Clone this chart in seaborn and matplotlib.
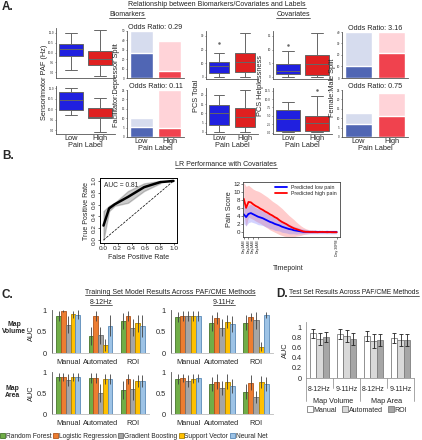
import numpy as np
import pandas as pd
import matplotlib
matplotlib.use("Agg")
import matplotlib.pyplot as plt
from matplotlib.lines import Line2D
from matplotlib.patches import Patch
import seaborn as sns

sns.set_style("white")
plt.rcParams['font.family'] = ['Liberation Sans', 'DejaVu Sans']

W, H = 422, 440

# ---------------- panel A data ----------------
pain_labels = ["Low", "High"]
paf_812_low = [9.13, 9.5, 9.8, 10.0, 10.17, 10.3, 10.42, 10.7, 11.0]
paf_812_high = [8.83, 9.1, 9.37, 9.5, 9.67, 9.9, 10.08, 10.6, 11.12]
paf_911_low = [9.71, 9.85, 9.97, 10.2, 10.43, 10.6, 10.81, 10.9, 11.0]
paf_911_high = [8.93, 9.3, 9.57, 9.6, 9.64, 9.85, 10.07, 10.3, 10.54]
pcs_total_low = [0.0, 1.5, 2.8, 5.0, 7.6, 9.0, 10.6, 17.7, 25.0]
pcs_total_high = [0.0, 1.5, 3.5, 7.0, 10.6, 14.0, 17.7, 25.0, 32.0]
pcs_help_low = [0.0, 0.6, 1.2, 1.8, 2.3, 3.5, 4.7, 9.4, 11.5]
pcs_help_high = [0.0, 0.4, 0.8, 2.5, 4.7, 6.5, 8.0, 12.0, 16.0]
pcs_total2_low = [0.0, 1.5, 3.5, 7.0, 10.4, 12.5, 14.7, 17.0, 20.0]
pcs_total2_high = [0.0, 1.2, 2.7, 5.5, 8.2, 10.5, 13.1, 17.0, 22.5]
pcs_help2_low = [0.2, 0.3, 0.4, 2.0, 4.1, 5.5, 6.8, 8.0, 9.1]
pcs_help2_high = [0.2, 0.3, 0.4, 1.5, 2.9, 4.0, 5.0, 10.9, 12.7]

fd_812_total = [50, 39]
fd_812_split = [27, 7]
fd_911_total = [10, 25]
fd_911_split = [5.5, 5]
fm_top_total = [40, 40]
fm_top_split = [10.5, 22]
fm_bot_total = [13, 23.5]
fm_bot_split = [7, 11]
odds = ["Odds Ratio: 0.29", "Odds Ratio: 0.11", "Odds Ratio: 3.16", "Odds Ratio: 0.75"]

# ---------------- panel B data ----------------
roc_fpr = [0, 0, 0.08, 0.08, 0.16, 0.16, 0.35, 0.35, 0.58, 0.58, 0.81, 0.81, 1.0]
roc_tpr = [0, 0.49, 0.49, 0.58, 0.58, 0.63, 0.63, 0.83, 0.83, 0.96, 0.96, 1.0, 1.0]

high_mean = [8.4, 6.1, 7.6, 7.5, 7.0, 6.6, 6.3, 5.9, 5.6, 5.2,
             4.9, 4.5, 4.2, 3.8, 3.5, 3.0, 2.6, 2.3, 2.0, 1.6,
             1.3, 1.0, 0.8, 0.6, 0.4, 0.2, 0.1, 0.1, 0.05, 0.1,
             0.05, 0.0, 0.05, 0.1, 0.05, 0.0, 0.05, 0.0, 0.0, 0.0]
low_mean = [4.5, 3.8, 4.6, 4.8, 4.5, 4.2, 3.9, 3.7, 3.5, 3.2,
            2.9, 2.6, 2.4, 2.1, 1.9, 1.7, 1.4, 1.2, 1.0, 0.8,
            0.7, 0.5, 0.4, 0.3, 0.2, 0.1, 0.1, 0.1, 0.05, 0.05,
            0.1, 0.05, 0.1, 0.05, 0.05, 0.1, 0.05, 0.05, 0.05, 0.05]
high_upper = [12.5, 11.5, 11.8, 11.3, 10.8, 10.5, 10.3, 10.0, 9.6, 9.2,
              8.8, 8.3, 7.8, 7.4, 7.0, 6.5, 6.0, 5.4, 4.8, 4.2,
              3.7, 3.2, 2.6, 2.1, 1.6, 1.2, 0.9, 0.7, 0.6, 0.5,
              0.5, 0.4, 0.4, 0.3, 0.4, 0.3, 0.3, 0.3, 0.3, 0.3]
high_lower = [4.5, 1.5, 3.8, 3.5, 3.2, 2.8, 2.5, 2.2, 1.8, 1.4,
              1.0, 0.6, 0.3, 0.0, -0.3, -0.6, -0.8, -1.0, -1.1, -1.2,
              -1.2, -1.2, -1.0, -0.9, -0.8, -0.6, -0.5, -0.4, -0.3, -0.3,
              -0.3, -0.2, -0.2, -0.2, -0.2, -0.2, -0.2, -0.2, -0.2, -0.2]
low_upper = [6.8, 6.0, 6.8, 7.0, 6.6, 6.2, 5.9, 5.6, 5.3, 5.0,
             4.6, 4.3, 4.0, 3.7, 3.4, 3.1, 2.8, 2.5, 2.2, 2.0,
             1.7, 1.5, 1.3, 1.1, 0.9, 0.8, 0.7, 0.6, 0.6, 0.6,
             0.6, 0.5, 0.5, 0.5, 0.5, 0.5, 0.5, 0.5, 0.5, 0.5]
low_lower = [2.2, 1.6, 2.4, 2.6, 2.4, 2.2, 1.9, 1.8, 1.7, 1.4,
             1.2, 0.9, 0.8, 0.5, 0.4, 0.3, 0.0, -0.1, -0.2, -0.4,
             -0.4, -0.4, -0.5, -0.4, -0.4, -0.4, -0.4, -0.4, -0.4, -0.4,
             -0.4, -0.4, -0.4, -0.4, -0.4, -0.4, -0.4, -0.4, -0.4, -0.4]
pain_ticks = [0, 2, 4, 6, 39]
pain_tick_labels = ["Day1AM", "Day2AM", "Day3AM", "Day4AM", "Day 30PM"]

# ---------------- panel C data ----------------
methods = ["Manual", "Automated", "ROI"]
models = ["Random Forest", "Logistic Regression", "Gradient Boosting", "Support Vector", "Neural Net"]
model_colors = ["#70ad47", "#ed7d31", "#a5a5a5", "#ffc000", "#9dc3e6"]
model_edges = ["#46752b", "#b0541c", "#6e6e6e", "#b08400", "#5b8ab8"]
vol_812 = [[0.87, 0.99, 0.67, 0.92, 0.91], [0.40, 0.87, 0.42, 0.19, 0.65], [0.76, 0.87, 0.60, 0.71, 0.64]]
vol_812_sd = [[0.12, 0.02, 0.20, 0.08, 0.10], [0.22, 0.12, 0.20, 0.15, 0.25], [0.18, 0.12, 0.20, 0.20, 0.25]]
vol_911 = [[0.85, 0.87, 0.87, 0.87, 0.87], [0.71, 0.83, 0.60, 0.74, 0.69], [0.72, 0.86, 0.78, 0.15, 0.90]]
vol_911_sd = [[0.12, 0.12, 0.12, 0.12, 0.12], [0.18, 0.15, 0.20, 0.15, 0.18], [0.18, 0.10, 0.20, 0.10, 0.08]]
area_812 = [[0.90, 0.89, 0.83, 0.89, 0.90], [0.88, 0.88, 0.51, 0.86, 0.86], [0.58, 0.86, 0.60, 0.80, 0.80]]
area_812_sd = [[0.10, 0.10, 0.15, 0.10, 0.10], [0.12, 0.12, 0.22, 0.12, 0.12], [0.22, 0.12, 0.25, 0.15, 0.15]]
area_911 = [[0.85, 0.88, 0.80, 0.86, 0.88], [0.73, 0.78, 0.63, 0.78, 0.68], [0.54, 0.76, 0.41, 0.78, 0.73]]
area_911_sd = [[0.12, 0.10, 0.15, 0.10, 0.10], [0.18, 0.18, 0.18, 0.18, 0.18], [0.18, 0.18, 0.15, 0.15, 0.18]]

# ---------------- panel D data ----------------
d_groups = ["Map Volume 8-12Hz", "Map Volume 9-11Hz", "Map Area 8-12Hz", "Map Area 9-11Hz"]
d_band_labels = ["8-12Hz", "9-11Hz", "8-12Hz", "9-11Hz"]
d_methods = ["Manual", "Automated", "ROI"]
d_colors = ["#ffffff", "#d9d9d9", "#a6a6a6"]
d_manual = [0.88, 0.87, 0.83, 0.79]
d_auto = [0.77, 0.83, 0.72, 0.75]
d_roi = [0.80, 0.77, 0.75, 0.74]
d_manual_sd = [0.09, 0.10, 0.10, 0.10]
d_auto_sd = [0.12, 0.12, 0.14, 0.12]
d_roi_sd = [0.10, 0.12, 0.12, 0.12]

fig = plt.figure(figsize=(W / 100, H / 100), dpi=100)


def px_axes(x0, y0, x1, y1):
    return fig.add_axes([x0 / W, 1 - y1 / H, (x1 - x0) / W, (y1 - y0) / H])


def ftext(x, y, s, **kw):
    return fig.text(x / W, 1 - y / H, s, **kw)


underlined = []


def utext(x, y, s, size, ha='center'):
    t = ftext(x, y, s, ha=ha, va='center', fontsize=size, color='#222222')
    underlined.append(t)


def box_panel(ax, low, high, yticks, show_x):
    df = pd.DataFrame({"label": ["Low"] * len(low) + ["High"] * len(high), "value": low + high})
    sns.boxplot(data=df, x="label", y="value", hue="label", order=pain_labels,
                palette={"Low": "blue", "High": "red"}, width=0.8, linewidth=0.7,
                linecolor="#666666", fliersize=0.8, legend=False, ax=ax)
    ax.set_yticks(yticks)
    ax.tick_params(axis='y', labelsize=2.2, length=1, pad=0.5, left=True, width=0.4)
    ax.set_xlabel("")
    ax.set_ylabel("")
    sns.despine(ax=ax)
    for s in ax.spines.values():
        s.set_linewidth(0.6)
        s.set_color("#555555")
    if show_x:
        ax.tick_params(axis='x', labelsize=5.3, length=0, pad=1)
        ax.set_xlabel("Pain Label", fontsize=5.3, labelpad=0)
    else:
        ax.set_xticks([])


def split_panel(ax, total, split, yticks, title, show_x):
    sns.barplot(x=pain_labels, y=total, hue=pain_labels, palette=["#d6dcee", "#ffd3d8"],
                saturation=1, width=0.8, legend=False, ax=ax)
    sns.barplot(x=pain_labels, y=split, hue=pain_labels, palette=["#5066b4", "#f0424e"],
                saturation=1, width=0.8, legend=False, ax=ax)
    ax.set_ylim(0, max(total))
    ax.set_yticks(yticks)
    ax.tick_params(axis='y', labelsize=2.2, length=1, pad=0.5, left=True, width=0.4)
    ax.set_title(title, fontsize=5.2, pad=1.5)
    sns.despine(ax=ax)
    for s in ax.spines.values():
        s.set_linewidth(0.6)
        s.set_color("#555555")
    if show_x:
        ax.tick_params(axis='x', labelsize=5.3, length=0, pad=1)
        ax.set_xlabel("Pain Label", fontsize=5.3, labelpad=0)
    else:
        ax.set_xticks([])


# ---------------- panel A ----------------
ftext(2, 7, "A.", fontsize=8.5, fontweight='bold', va='center')
utext(217, 5, "Relationship between Biomarkers/Covariates and Labels", 5.0)
utext(127, 15, "Biomarkers", 5.0)
utext(293, 15, "Covariates", 5.0)

ax = px_axes(56, 28, 115, 78)
box_panel(ax, paf_812_low, paf_812_high, [9.0, 9.5, 10.0, 10.5, 11.0], False)
ax = px_axes(56, 86, 115, 134)
box_panel(ax, paf_911_low, paf_911_high, [9.0, 9.5, 10.0, 10.5, 11.0], True)
ftext(45, 82, "Sensorimotor PAF (Hz)", rotation=90, fontsize=5.3, ha='center', va='center')

ax = px_axes(127, 31, 184, 78)
split_panel(ax, fd_812_total, fd_812_split, [0, 10, 20, 30, 40, 50], odds[0], False)
ax = px_axes(127, 90, 184, 137)
split_panel(ax, fd_911_total, fd_911_split, [0, 5, 10, 15, 20, 25], odds[1], True)
ftext(116, 85, "Facilitator:Depressor Split", rotation=90, fontsize=5.3, ha='center', va='center')

ax = px_axes(206, 31, 258, 79)
box_panel(ax, pcs_total_low, pcs_total_high, [0, 10, 20, 30], False)
ax = px_axes(206, 88, 258, 134)
box_panel(ax, pcs_total2_low, pcs_total2_high, [0, 5, 10, 15, 20], True)
ftext(196, 96, "PCS Total", rotation=90, fontsize=5.3, ha='center', va='center')

ax = px_axes(273, 31, 332, 79)
box_panel(ax, pcs_help_low, pcs_help_high, [0, 5, 10, 15], False)
ax = px_axes(273, 88, 332, 134)
box_panel(ax, pcs_help2_low, pcs_help2_high, [0, 2.5, 5.0, 7.5, 10.0, 12.5], True)
ftext(261, 85, "PCS Helplessness", rotation=90, fontsize=5.3, ha='center', va='center')

ax = px_axes(342, 32, 408, 78)
split_panel(ax, fm_top_total, fm_top_split, [0, 10, 20, 30, 40], odds[2], False)
ax = px_axes(342, 90, 408, 137)
split_panel(ax, fm_bot_total, fm_bot_split, [0, 5, 10, 15, 20, 25], odds[3], True)
ftext(332, 88, "Female:Male Split", rotation=90, fontsize=5.3, ha='center', va='center')

# ---------------- panel B ----------------
ftext(2, 156, "B.", fontsize=8.5, fontweight='bold', va='center')
utext(226, 165, "LR Performance with Covariates", 5.0)

ax = px_axes(100, 178, 177, 243)
sns.lineplot(x=roc_fpr, y=roc_tpr, color='black', lw=1.8, sort=False, ax=ax)
ax.plot([0, 1], [0, 1], ls='--', color='black', lw=0.5)
ax.set_xlim(-0.05, 1.05)
ax.set_ylim(-0.05, 1.05)
ticks01 = [0.0, 0.2, 0.4, 0.6, 0.8, 1.0]
ax.set_xticks(ticks01)
ax.set_yticks(ticks01)
ax.set_xticklabels([f"{t:.1f}" for t in ticks01])
ax.set_yticklabels([f"{t:.1f}" for t in ticks01], rotation=90, va='center')
ax.tick_params(labelsize=4.6, length=1.5, pad=1, left=True, bottom=True, width=0.5)
ax.set_xlabel("False Positive Rate", fontsize=5.0, labelpad=2)
ax.set_ylabel("True Positive Rate", fontsize=5.0, labelpad=1)
ax.text(0.0, 0.99, "AUC = 0.81", fontsize=4.8, va='top', ha='left')
for s in ax.spines.values():
    s.set_color('black')
    s.set_linewidth(0.7)

ax = px_axes(243, 182, 340, 237)
t_idx = np.arange(len(high_mean))
ax.fill_between(t_idx, high_lower, high_upper, color='#ff8080', alpha=0.4, lw=0)
ax.fill_between(t_idx, low_lower, low_upper, color='#8080ff', alpha=0.35, lw=0)
sns.lineplot(x=t_idx, y=low_mean, color='blue', lw=1.3, ax=ax, label="Predicted low pain")
sns.lineplot(x=t_idx, y=high_mean, color='red', lw=1.3, ax=ax, label="Predicted high pain")
ax.set_xlim(-0.3, 40.4)
ax.set_ylim(-1.2, 12.6)
ax.set_yticks([0, 2, 4, 6, 8, 10, 12])
ax.set_xticks(pain_ticks)
ax.set_xticklabels(pain_tick_labels, rotation=90)
ax.tick_params(axis='x', labelsize=2.5, length=1.5, pad=0.5, bottom=True, width=0.4)
ax.tick_params(axis='y', labelsize=4.5, length=1.5, pad=0.5, left=True, width=0.4)
ax.set_ylabel("Pain Score", fontsize=5.3, labelpad=0.5)
ax.legend(loc='upper right', fontsize=3.8, frameon=False, handlelength=2.2,
          borderaxespad=0.2, labelspacing=0.2)
for s in ax.spines.values():
    s.set_color('#444444')
    s.set_linewidth(0.6)
ftext(288, 268, "Timepoint", fontsize=5, ha='center', va='center')

# ---------------- panel C ----------------
ftext(2, 295, "C.", fontsize=8.5, fontweight='bold', va='center')
utext(170, 292, "Training Set Model Results Across PAF/CME Methods", 5.0)
utext(101, 302, "8-12Hz", 5.0)
utext(224, 302, "9-11Hz", 5.0)


def model_panel(ax, means, sds):
    df = pd.DataFrame({"method": np.repeat(methods, len(models)),
                       "model": models * len(methods),
                       "auc": np.ravel(means)})
    sns.barplot(data=df, x="method", y="auc", hue="model", order=methods, hue_order=models,
                palette=model_colors, saturation=1, width=0.74, errorbar=None,
                legend=False, linewidth=0.6, ax=ax)
    bar_sets = list(ax.containers)
    for k, cont in enumerate(bar_sets):
        xs = [b.get_x() + b.get_width() / 2 for b in cont]
        ys = [b.get_height() for b in cont]
        for b in cont:
            b.set_edgecolor(model_edges[k])
        ax.errorbar(xs, ys, yerr=[sds[m][k] for m in range(len(methods))], fmt='none',
                    ecolor='#404040', elinewidth=0.6, capsize=0, clip_on=False)
    ax.set_ylim(0, 1.02)
    ax.set_xlim(-0.5, 2.5)
    ax.set_yticks([0, 0.5, 1])
    ax.set_yticklabels(["0", "0.5", "1"])
    ax.tick_params(axis='y', labelsize=5.3, length=0, pad=4)
    ax.tick_params(axis='x', labelsize=5.3, length=0, pad=4)
    ax.set_xlabel("")
    ax.set_ylabel("")
    sns.despine(ax=ax)
    ax.spines['left'].set_color('#555555')
    ax.spines['left'].set_linewidth(0.6)
    ax.spines['bottom'].set_color('#bbbbbb')
    ax.spines['bottom'].set_linewidth(0.6)


ax = px_axes(52, 310, 149, 353)
model_panel(ax, vol_812, vol_812_sd)
ax = px_axes(171, 310, 273, 353)
model_panel(ax, vol_911, vol_911_sd)
ax = px_axes(52, 372, 149, 414)
model_panel(ax, area_812, area_812_sd)
ax = px_axes(171, 372, 273, 414)
model_panel(ax, area_911, area_911_sd)

ftext(14, 328, "Map\nVolume", fontsize=4.9, fontweight='bold', ha='center', va='center', linespacing=1.1)
ftext(12, 392, "Map\nArea", fontsize=4.9, fontweight='bold', ha='center', va='center', linespacing=1.1)
ftext(31, 333, "AUC", rotation=90, fontsize=5.3, ha='center', va='center')
ftext(31, 393, "AUC", rotation=90, fontsize=5.3, ha='center', va='center')

c_handles = [Patch(facecolor=c, edgecolor=e, lw=0.6) for c, e in zip(model_colors, model_edges)]
fig.legend(c_handles, models, loc='center left', bbox_to_anchor=(0.0, 1 - 436 / H), ncol=5,
           fontsize=4.8, frameon=False, handlelength=0.8, handleheight=0.8,
           handletextpad=0.1, columnspacing=0.2, borderaxespad=0, borderpad=0)

# ---------------- panel D ----------------
ftext(276, 294, "D.", fontsize=8.5, fontweight='bold', va='center')
utext(289, 293, "Test Set Results Across PAF/CME Methods", 4.9, ha='left')

ax = px_axes(306, 322, 414, 378)
d_df = pd.DataFrame({"group": d_groups * 3,
                     "method": np.repeat(d_methods, len(d_groups)),
                     "auc": d_manual + d_auto + d_roi})
sns.barplot(data=d_df, x="group", y="auc", hue="method", order=d_groups, hue_order=d_methods,
            palette=d_colors, saturation=1, width=0.68, errorbar=None, legend=False,
            edgecolor='#7f7f7f', linewidth=0.6, ax=ax)
d_bar_sets = list(ax.containers)
for cont, sd in zip(d_bar_sets, [d_manual_sd, d_auto_sd, d_roi_sd]):
    xs = [b.get_x() + b.get_width() / 2 for b in cont]
    ys = [b.get_height() for b in cont]
    ax.errorbar(xs, ys, yerr=sd, fmt='none', ecolor='#222222', elinewidth=0.6,
                capsize=1.5, capthick=0.6)
ax.set_ylim(0, 1.1)
ax.set_xlim(-0.5, 3.5)
ax.set_yticks([0, 0.2, 0.4, 0.6, 0.8, 1])
ax.set_yticklabels(["0", "0.2", "0.4", "0.6", "0.8", "1"])
ax.tick_params(axis='y', labelsize=5.2, length=0, pad=3)
ax.set_xticks(range(len(d_groups)))
ax.set_xticklabels(d_band_labels)
ax.tick_params(axis='x', labelsize=5.0, length=0, pad=6)
ax.set_xlabel("")
ax.set_ylabel("AUC", fontsize=5.3, labelpad=2)
sns.despine(ax=ax)
ax.spines['left'].set_color('#999999')
ax.spines['left'].set_linewidth(0.6)
ax.spines['bottom'].set_color('#999999')
ax.spines['bottom'].set_linewidth(0.6)
# category separators under the axis
for xv in [-0.5, 1.5, 3.5]:
    ax.plot([xv, xv], [0, -0.45], color='#999999', lw=0.6, clip_on=False)
for xv in [0.5, 2.5]:
    ax.plot([xv, xv], [0, -0.2], color='#999999', lw=0.6, clip_on=False)
ftext(333, 401, "Map Volume", fontsize=5.2, ha='center', va='center')
ftext(387, 401, "Map Area", fontsize=5.2, ha='center', va='center')

d_handles = [Patch(facecolor=c, edgecolor='#7f7f7f', lw=0.6) for c in d_colors]
fig.legend(d_handles, d_methods, loc='center', bbox_to_anchor=(357 / W, 1 - 410 / H), ncol=3,
           fontsize=5.0, frameon=False, handlelength=0.8, handleheight=0.8,
           handletextpad=0.1, columnspacing=0.8, borderaxespad=0, borderpad=0)

# underline the section titles
fig.canvas.draw()
renderer = fig.canvas.get_renderer()
for t in underlined:
    bb = t.get_window_extent(renderer)
    yy = (bb.y0 + 0.6) / H
    fig.add_artist(Line2D([bb.x0 / W, bb.x1 / W], [yy, yy], transform=fig.transFigure,
                          lw=0.5, color='#222222'))

fig.savefig("out.png", dpi=100)
